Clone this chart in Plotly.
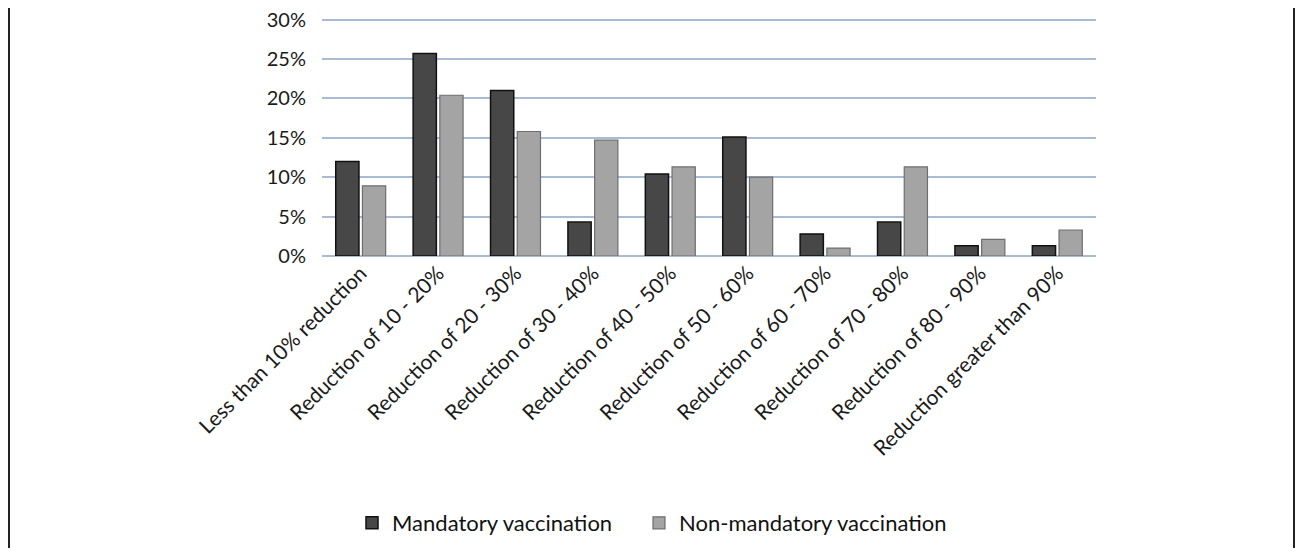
import plotly.graph_objects as go

categories = [
    "Less than 10% reduction",
    "Reduction of 10 - 20%",
    "Reduction of 20 - 30%",
    "Reduction of 30 - 40%",
    "Reduction of 40 - 50%",
    "Reduction of 50 - 60%",
    "Reduction of 60 - 70%",
    "Reduction of 70 - 80%",
    "Reduction of 80 - 90%",
    "Reduction greater than 90%",
]
mandatory = [0.120, 0.257, 0.210, 0.043, 0.104, 0.151, 0.028, 0.043, 0.013, 0.013]
non_mandatory = [0.089, 0.204, 0.158, 0.147, 0.113, 0.100, 0.010, 0.113, 0.021, 0.033]
y_ticks = [0, 0.05, 0.10, 0.15, 0.20, 0.25, 0.30]
y_tick_text = ["0%", "5%", "10%", "15%", "20%", "25%", "30%"]

FONT = "Lato, Open Sans, sans-serif"

fig = go.Figure()
fig.add_trace(go.Bar(
    x=categories, y=mandatory, name="Mandatory vaccination",
    marker=dict(color="#474747", line=dict(color="#111111", width=1.5)),
    legend="legend",
))
fig.add_trace(go.Bar(
    x=categories, y=non_mandatory, name="Non-mandatory vaccination",
    marker=dict(color="#a4a4a4", line=dict(color="#6e6e6e", width=1.2)),
    legend="legend2",
))

# page has an 8px body margin; figure coords = page coords - 8
W, H = 1288, 540
L, T = 314, 10
PW, PH = 774, 238
R = W - L - PW
B = H - T - PH

leg_y = (T + PH - 515) / PH
leg_common = dict(
    orientation="h", xanchor="left", y=leg_y, yanchor="middle",
    font=dict(size=22, family=FONT, color="#111111"),
    bgcolor="rgba(0,0,0,0)",
)

fig.update_layout(
    width=W, height=H,
    margin=dict(l=L, r=R, t=T, b=B, autoexpand=False),
    paper_bgcolor="white", plot_bgcolor="white",
    barmode="group", bargap=0.31, bargroupgap=0.13,
    font=dict(family=FONT, color="#1a1a1a", size=21),
    showlegend=True,
    legend=dict(x=(344 - L) / PW, **leg_common),
    legend2=dict(x=(631 - L) / PW, **leg_common),
    xaxis=dict(
        tickangle=-45, tickfont=dict(size=21, family=FONT),
        showgrid=False, showline=False, ticks="",
    ),
    yaxis=dict(
        range=[0, 0.302], tickvals=y_ticks, ticktext=y_tick_text,
        showgrid=True, gridcolor="#a9bcd4", gridwidth=1.5,
        zeroline=True, zerolinecolor="#a9bcd4", zerolinewidth=1.5,
        tickfont=dict(size=20, family=FONT), ticks="",
        ticklabelstandoff=15, ticklabeloverflow="allow",
        showline=False,
    ),
    shapes=[
        dict(type="line", xref="paper", yref="paper",
             x0=(1 - L) / PW, x1=(1 - L) / PW, y0=(T + PH) / PH + 0.05, y1=-(B / PH) - 0.05,
             line=dict(color="#222222", width=2)),
        dict(type="line", xref="paper", yref="paper",
             x0=(1286 - L) / PW, x1=(1286 - L) / PW, y0=(T + PH) / PH + 0.05, y1=-(B / PH) - 0.05,
             line=dict(color="#222222", width=2)),
    ],
)

fig.write_html("out.html")
